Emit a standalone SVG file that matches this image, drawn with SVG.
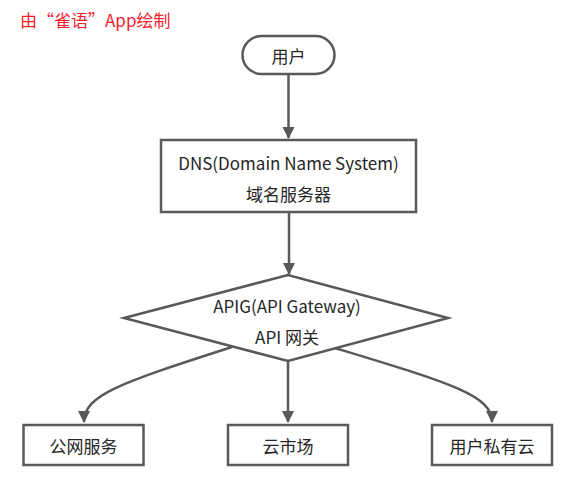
<svg xmlns="http://www.w3.org/2000/svg" width="578" height="501" viewBox="0 0 578 501">
<style>
  .shape { fill: #ffffff; stroke: #595959; stroke-width: 2.5; }
  .lbl { font-family: "Noto Sans CJK SC", "Liberation Sans", sans-serif; font-size: 17px; fill: #262626; text-anchor: middle; dominant-baseline: central; }
  .edge { fill: none; stroke: #595959; stroke-width: 2.5; }
  .title { font-family: "Noto Sans CJK SC", "Liberation Sans", sans-serif; font-size: 17px; fill: #f5222d; dominant-baseline: central; }
</style>
<defs>
  <marker id="arrow" viewBox="0 0 12 14" refX="11" refY="7" markerWidth="12" markerHeight="14" markerUnits="userSpaceOnUse" orient="auto">
    <path d="M0,1 L12,7 L0,13 Z" fill="#595959"/>
  </marker>
</defs>
<rect width="578" height="501" fill="#ffffff"/>
<text class="title" x="20" y="19">由“雀语”App绘制</text>
<g id="connectors">
  <line class="edge" x1="288.5" y1="75" x2="288.5" y2="138" marker-end="url(#arrow)"/>
  <line class="edge" x1="289" y1="212" x2="289" y2="274" marker-end="url(#arrow)"/>
  <line class="edge" x1="288" y1="361" x2="288" y2="422" marker-end="url(#arrow)"/>
  <path class="edge" d="M232,347 C120,383 84,395 84,422" marker-end="url(#arrow)"/>
  <path class="edge" d="M335,348 C450,383 492,395 492,422" marker-end="url(#arrow)"/>
</g>
<g id="user">
  <rect class="shape" x="242.5" y="36" width="92" height="38" rx="19"/>
  <text class="lbl" x="288.5" y="55">用户</text>
</g>
<g id="dns">
  <rect class="shape" x="161" y="140" width="255" height="72"/>
  <text class="lbl" x="288.5" y="162">DNS(Domain Name System)</text>
  <text class="lbl" x="288.5" y="193">域名服务器</text>
</g>
<g id="apig">
  <polygon class="shape" points="124,318 288,275 448,318 288,361"/>
  <text class="lbl" x="287" y="305">APIG(API Gateway)</text>
  <text class="lbl" x="287" y="336">API 网关</text>
</g>
<g id="public">
  <rect class="shape" x="23.5" y="425" width="120" height="40"/>
  <text class="lbl" x="83.5" y="445">公网服务</text>
</g>
<g id="market">
  <rect class="shape" x="228" y="425" width="120" height="40"/>
  <text class="lbl" x="288" y="445">云市场</text>
</g>
<g id="private">
  <rect class="shape" x="432" y="425" width="120" height="40"/>
  <text class="lbl" x="492" y="445">用户私有云</text>
</g>
</svg>
